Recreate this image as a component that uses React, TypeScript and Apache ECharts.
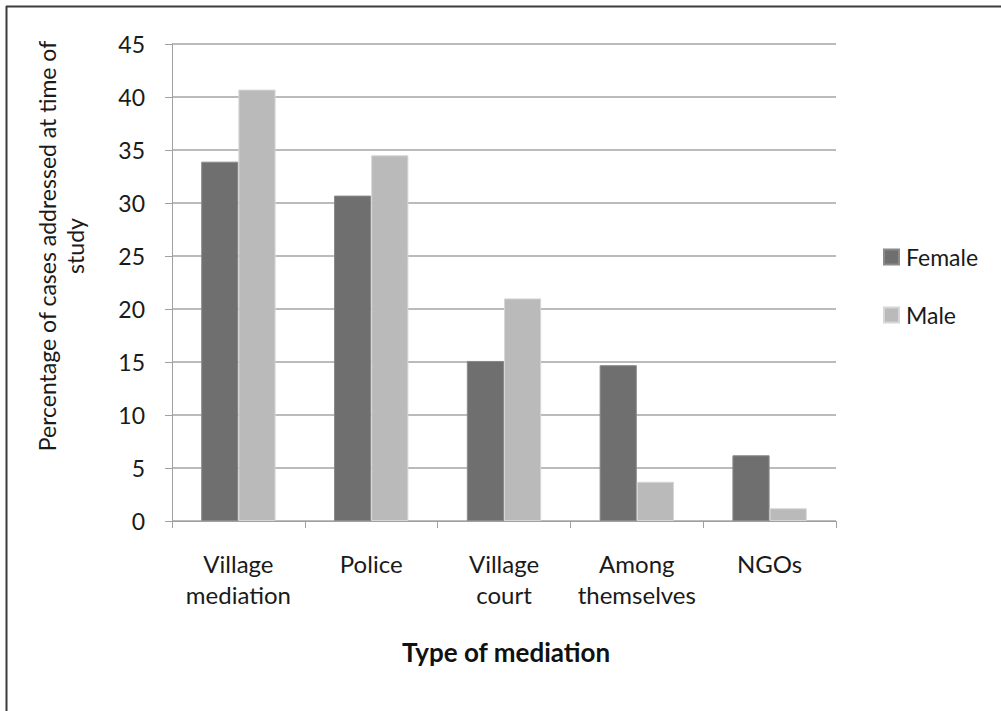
import React, { useEffect, useRef } from "react";
import * as echarts from "echarts";

const categories = ["Village\nmediation", "Police", "Village\ncourt", "Among\nthemselves", "NGOs"];
const femaleValues = [33.9, 30.7, 15.1, 14.7, 6.2];
const maleValues = [40.7, 34.5, 21.0, 3.7, 1.2];
const seriesNames = ["Female", "Male"];
const yAxisTitle = "Percentage of cases addressed at time of\nstudy";
const xAxisTitle = "Type of mediation";

const FONT = "Lato, 'Open Sans', sans-serif";

export default function App() {
  const ref = useRef<HTMLDivElement>(null);
  useEffect(() => {
    document.body.style.margin = "0";
    if (!ref.current) return;
    const chart = echarts.init(ref.current, undefined, { renderer: "svg" });
    chart.setOption({
      animation: false,
      backgroundColor: "#ffffff",
      grid: { left: 172, right: 165, top: 44, bottom: 190, containLabel: false },
      legend: {
        orient: "vertical",
        left: 878,
        top: 240,
        itemWidth: 15,
        itemHeight: 15,
        itemGap: 34,
        icon: "rect",
        data: seriesNames,
        textStyle: { fontFamily: FONT, fontSize: 23, color: "#1a1a1a", lineHeight: 24, padding: [0, 0, 0, 2] },
      },
      xAxis: {
        type: "category",
        data: categories,
        axisLine: { show: true, lineStyle: { color: "#a0a0a0", width: 1 } },
        axisTick: { show: true, length: 7, interval: 0, lineStyle: { color: "#a0a0a0" } },
        axisLabel: {
          interval: 0,
          fontFamily: FONT,
          fontSize: 24,
          lineHeight: 31,
          color: "#1a1a1a",
          margin: 27,
        },
      },
      yAxis: {
        type: "value",
        min: 0,
        max: 45,
        interval: 5,
        axisLine: { show: true, lineStyle: { color: "#a0a0a0", width: 1 } },
        axisTick: { show: true, length: 7, lineStyle: { color: "#a0a0a0" } },
        axisLabel: { fontFamily: FONT, fontSize: 23, color: "#1a1a1a", margin: 27 },
        splitLine: { show: true, lineStyle: { color: "#a5a5a5", width: 1.5 } },
      },
      series: [
        {
          name: seriesNames[0],
          type: "bar",
          data: femaleValues,
          barGap: "0%",
          barCategoryGap: "44%",
          itemStyle: { color: "#6f6f6f", borderColor: "#8a8a8a", borderWidth: 1 },
        },
        {
          name: seriesNames[1],
          type: "bar",
          data: maleValues,
          barGap: "0%",
          barCategoryGap: "44%",
          itemStyle: { color: "#bababa", borderColor: "#d6d6d6", borderWidth: 1 },
        },
      ],
      graphic: [
        { type: "line", shape: { x1: 6, y1: 6.5, x2: 1001, y2: 6.5 }, style: { stroke: "#3c3c3c", lineWidth: 2 } },
        { type: "line", shape: { x1: 6.5, y1: 6, x2: 6.5, y2: 711 }, style: { stroke: "#3c3c3c", lineWidth: 2 } },
        {
          type: "text",
          x: 61,
          y: 246,
          rotation: Math.PI / 2,
          style: {
            text: yAxisTitle,
            font: `23px ${FONT}`,
            fill: "#1a1a1a",
            align: "center",
            verticalAlign: "middle",
            lineHeight: 28,
          },
        },
        {
          type: "text",
          x: 506,
          y: 652,
          style: {
            text: xAxisTitle,
            font: `bold 26px ${FONT}`,
            fill: "#111111",
            align: "center",
            verticalAlign: "middle",
          },
        },
      ],
    });
    return () => chart.dispose();
  }, []);
  return <div ref={ref} style={{ width: 1001, height: 711 }} />;
}
